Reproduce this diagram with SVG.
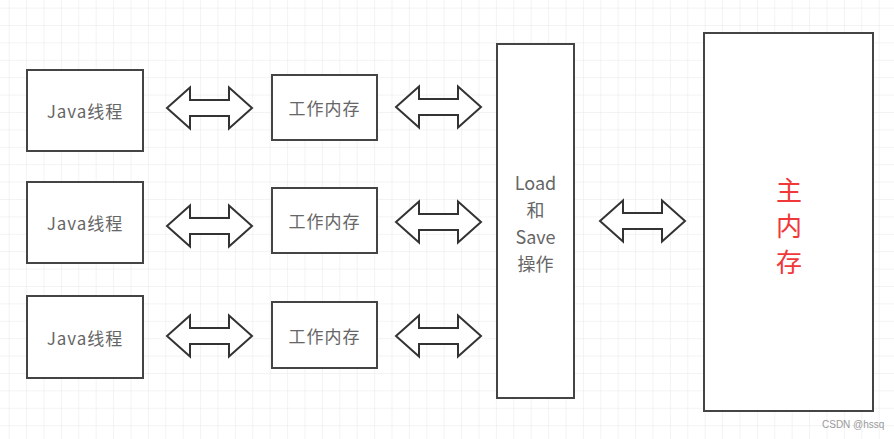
<svg xmlns="http://www.w3.org/2000/svg" width="894" height="439" viewBox="0 0 894 439">
<style>
.box{fill:#fff;stroke:#444;stroke-width:2}
.arr{fill:#fff;stroke:#333;stroke-width:2;stroke-linejoin:miter}
.t{font-family:"Noto Sans CJK SC","Liberation Sans",sans-serif;fill:#666;text-anchor:middle;dominant-baseline:central}
.s{font-size:17px;letter-spacing:1px}
.l{font-size:18px}
.m{font-size:26px;fill:#f0383a}
.wm{font-family:"Liberation Sans",sans-serif;font-size:10px;fill:#999}
</style>
<defs>
<pattern id="grid" x="8.7" y="7.6" width="17.4" height="17.4" patternUnits="userSpaceOnUse">
<path d="M0,0 V17.4 M0,0 H17.4" fill="none" stroke="#e8e8e8" stroke-width="1"/>
</pattern>
<path id="dbl" d="M0,0 L23,-20.5 L23,-8 L62,-8 L62,-20.5 L85,0 L62,20.5 L62,8 L23,8 L23,20.5 Z"/>
</defs>
<rect width="894" height="439" fill="#fff"/>
<rect width="894" height="439" fill="url(#grid)"/>
<g id="connectors">
<use href="#dbl" class="arr" transform="translate(167,108)"/>
<use href="#dbl" class="arr" transform="translate(167,226)"/>
<use href="#dbl" class="arr" transform="translate(167,336)"/>
<use href="#dbl" class="arr" transform="translate(396,107)"/>
<use href="#dbl" class="arr" transform="translate(396,222)"/>
<use href="#dbl" class="arr" transform="translate(396,336)"/>
<use href="#dbl" class="arr" transform="translate(600,221)"/>
</g>
<g id="java1"><rect class="box" x="27" y="70" width="116" height="81"/><text class="t s" x="85" y="110">Java线程</text></g>
<g id="java2"><rect class="box" x="27" y="182" width="116" height="81"/><text class="t s" x="85" y="222">Java线程</text></g>
<g id="java3"><rect class="box" x="27" y="296" width="116" height="82"/><text class="t s" x="85" y="337">Java线程</text></g>
<g id="work1"><rect class="box" x="272" y="75" width="105" height="65"/><text class="t s" x="324.5" y="107.5">工作内存</text></g>
<g id="work2"><rect class="box" x="272" y="188" width="105" height="65"/><text class="t s" x="324.5" y="220.5">工作内存</text></g>
<g id="work3"><rect class="box" x="272" y="302" width="105" height="66"/><text class="t s" x="324.5" y="335">工作内存</text></g>
<g id="loadsave"><rect class="box" x="497" y="44" width="77" height="354"/>
<text class="t l" x="535.5" y="182">Load</text>
<text class="t l" x="535.5" y="209">和</text>
<text class="t l" x="535.5" y="236">Save</text>
<text class="t l" x="535.5" y="263">操作</text>
</g>
<g id="mainmem"><rect class="box" x="704" y="33" width="169" height="378"/>
<text class="t m" x="789" y="188">主</text>
<text class="t m" x="789" y="224">内</text>
<text class="t m" x="789" y="260">存</text>
</g>
<text class="wm" x="822" y="428">CSDN @hssq</text>
</svg>
